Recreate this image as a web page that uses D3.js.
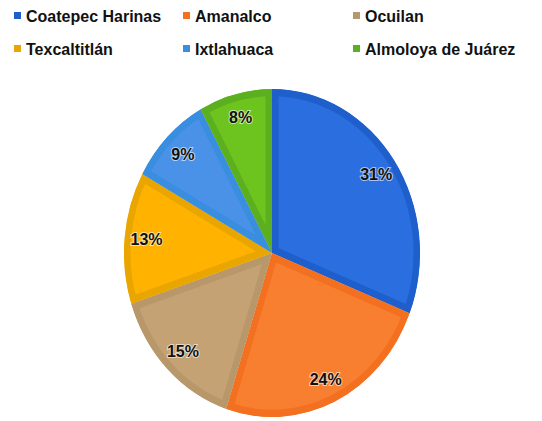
<!DOCTYPE html>
<meta charset="utf-8">
<script src="https://d3js.org/d3.v7.min.js"></script>
<style>
body { margin: 0; background: #fff; }
text { font-family: "Liberation Sans", Arial, sans-serif; font-weight: bold; }
.lbl { font-size: 16px; fill: #111; paint-order: stroke; stroke: rgba(255,255,255,0.6); stroke-width: 2px; }
.leg { font-size: 16px; fill: #111; }
</style>
<body></body>
<script>
// data
var municipios = ["Coatepec Harinas", "Amanalco", "Ocuilan", "Texcaltitlán", "Ixtlahuaca", "Almoloya de Juárez"];
var porcentajes = [31, 24, 15, 13, 9, 8];
var rellenos = ["#2a6ee0", "#f97f30", "#c4a273", "#ffb300", "#4a92e8", "#6ec41e"];
var bordes = ["#1f5fcc", "#f27020", "#b8976a", "#eaa600", "#3a8ee0", "#5cb020"];

var width = 542, height = 421;
var cx = 272, cy = 253, rx = 148, ry = 164;

var svg = d3.select("body").append("svg")
  .attr("width", width)
  .attr("height", height);

// legend: 3 columns, 2 rows
var colX = [14, 183, 353], rowY = [16, 49];
var leg = svg.selectAll(".legItem")
  .data(municipios)
  .enter().append("g")
  .attr("class", "legItem")
  .attr("transform", function(d, i) { return "translate(" + colX[i % 3] + "," + rowY[Math.floor(i / 3)] + ")"; });

leg.append("rect")
  .attr("x", 0).attr("y", -4)
  .attr("width", 7).attr("height", 7)
  .style("fill", function(d, i) { return bordes[i]; });

leg.append("text")
  .attr("class", "leg")
  .attr("x", 12).attr("y", 6)
  .text(function(d) { return d; });

// pie
var pie = d3.pie().sort(null).value(function(d) { return d; });
var arcs = pie(porcentajes);
var arc = d3.arc().innerRadius(0).outerRadius(rx);

var g = svg.append("g")
  .attr("transform", "translate(" + cx + "," + cy + ") scale(1," + (ry / rx) + ")");

var defs = svg.append("defs");
defs.selectAll("clipPath")
  .data(arcs)
  .enter().append("clipPath")
  .attr("id", function(d, i) { return "clip" + i; })
  .append("path")
  .attr("d", arc);

g.selectAll(".slice")
  .data(arcs)
  .enter().append("path")
  .attr("class", "slice")
  .attr("d", arc)
  .attr("clip-path", function(d, i) { return "url(#clip" + i + ")"; })
  .style("fill", function(d, i) { return rellenos[i]; })
  .style("stroke", function(d, i) { return bordes[i]; })
  .style("stroke-width", 13)
  .style("stroke-linejoin", "miter");

// labels
var lblArc = d3.arc().innerRadius(126).outerRadius(126);
svg.selectAll(".lbl")
  .data(arcs)
  .enter().append("text")
  .attr("class", "lbl")
  .attr("x", function(d) { return cx + lblArc.centroid(d)[0]; })
  .attr("y", function(d) { return cy + lblArc.centroid(d)[1] * ry / rx; })
  .attr("dy", "0.35em")
  .attr("text-anchor", "middle")
  .text(function(d) { return d.data + "%"; });
</script>
